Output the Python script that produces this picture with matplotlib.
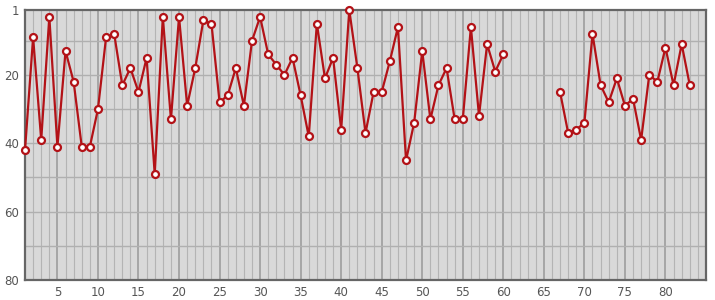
import numpy as np
import matplotlib
matplotlib.use('Agg')
import matplotlib.pyplot as plt

# rank per position; None = no value
positions = list(range(1, 84))
ranks = [42, 9, 39, 3, 41, 13, 22, 41, 41, 30,
         9, 8, 23, 18, 25, 15, 49, 3, 33, 3,
         29, 18, 4, 5, 28, 26, 18, 29, 10, 3,
         14, 17, 20, 15, 26, 38, 5, 21, 15, 36,
         1, 18, 37, 25, 25, 16, 6, 45, 34, 13,
         33, 23, 18, 33, 33, 6, 32, 11, 19, 14,
         None, None, None, None, None, None,
         25, 37, 36, 34, 8, 23, 28, 21, 29, 27,
         39, 20, 22, 12, 23, 11, 23]

y_labels = [1, 20, 40, 60, 80]
x_labels = list(range(5, 85, 5))

y = np.array([np.nan if r is None else r for r in ranks], dtype=float)

fig = plt.figure(figsize=(7.15, 3.0), dpi=100)
ax = fig.add_axes([25 / 715, 20 / 300, 681 / 715, 270 / 300])
ax.set_facecolor('#d9d9d9')

ax.set_xlim(1, 85)
ax.set_ylim(80, 1)

# grid: every unit on x, darker every 5; every 10 on y
for xv in range(2, 85):
    major = xv % 5 == 0
    ax.axvline(xv, color='#999999' if major else '#b4b4b4',
               lw=1.1 if major else 0.8, zorder=1)
for yv in range(10, 80, 10):
    ax.axhline(yv, color='#b0b0b0', lw=1.0, zorder=1)

ax.plot(positions, y, color='#b31217', lw=1.6, zorder=3,
        marker='o', markersize=5, markerfacecolor='white',
        markeredgecolor='#b31217', markeredgewidth=1.6, clip_on=False)

ax.set_xticks(x_labels)
ax.set_yticks(y_labels)
ax.tick_params(length=0, labelsize=8.5, colors='#555555', pad=4)
for sp in ax.spines.values():
    sp.set_color('#666666')
    sp.set_linewidth(1.6)

fig.savefig('out.png', dpi=100)
